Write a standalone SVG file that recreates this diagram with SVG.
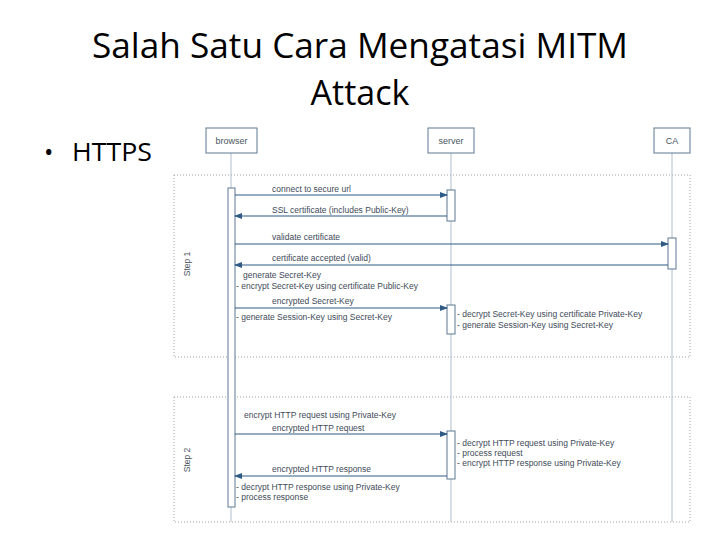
<svg xmlns="http://www.w3.org/2000/svg" width="720" height="540" viewBox="0 0 720 540">
<style>
.title{font-family:"Open Sans","Liberation Sans",sans-serif;font-size:34px;fill:#000}
.bul{font-family:"Open Sans","Liberation Sans",sans-serif;font-size:25px;fill:#000}
.hd rect{fill:#fff;stroke:#5d7892;stroke-width:1}
.hd text{font-family:"Liberation Sans",Arial,sans-serif;font-size:9px;fill:#4a5560;text-anchor:middle}
.life{stroke:#b0bfcc;stroke-width:1}
.act{fill:#fff;stroke:#5d7892;stroke-width:1}
.frame{fill:none;stroke:#a0a0a0;stroke-width:1;stroke-dasharray:1 2}
.lbl{font-family:"Liberation Sans",Arial,sans-serif;font-size:8.5px;fill:#3e4a58}
.msg{stroke:#2f5b85;stroke-width:1.2;fill:none}
.step{font-family:"Liberation Sans",Arial,sans-serif;font-size:8.5px;fill:#4a5560;text-anchor:middle}
</style>
<defs>
<marker id="ah" markerWidth="8" markerHeight="6" refX="7" refY="3" orient="auto" markerUnits="userSpaceOnUse">
<path d="M0,0 L8,3 L0,6 Z" fill="#2f5b85"/>
</marker>
</defs>
<rect width="720" height="540" fill="#fff"/>
<text class="title" x="360" y="58" text-anchor="middle" textLength="536" lengthAdjust="spacingAndGlyphs">Salah Satu Cara Mengatasi MITM</text>
<text class="title" x="360" y="105" text-anchor="middle">Attack</text>
<text class="bul" x="44" y="161">•</text>
<text class="bul" x="72" y="161" textLength="80" lengthAdjust="spacingAndGlyphs">HTTPS</text>

<g id="frames">
<rect class="frame" x="174" y="175" width="516" height="182"/>
<text class="step" transform="translate(190,264) rotate(-90)">Step 1</text>
<rect class="frame" x="174" y="397" width="516" height="125"/>
<text class="step" transform="translate(190,460) rotate(-90)">Step 2</text>
</g>

<g id="lifelines">
<line class="life" x1="231" y1="153" x2="231" y2="522"/>
<line class="life" x1="451" y1="153" x2="451" y2="522"/>
<line class="life" x1="672" y1="153" x2="672" y2="522"/>
</g>

<g id="browser" class="hd">
<rect x="206" y="128" width="51" height="25"/>
<text x="231.5" y="144">browser</text>
<rect class="act" x="228" y="188" width="7" height="319"/>
</g>
<g id="server" class="hd">
<rect x="428" y="128" width="46" height="25"/>
<text x="451" y="144">server</text>
<rect class="act" x="447" y="190" width="8" height="31"/>
<rect class="act" x="447" y="305" width="8" height="29"/>
<rect class="act" x="447" y="431" width="8" height="48"/>
</g>
<g id="ca" class="hd">
<rect x="654" y="128" width="36" height="25"/>
<text x="672" y="144">CA</text>
<rect class="act" x="668" y="238" width="8" height="31"/>
</g>

<g id="connectors">
<line class="msg" x1="235" y1="195" x2="447" y2="195" marker-end="url(#ah)"/>
<line class="msg" x1="447" y1="216" x2="235" y2="216" marker-end="url(#ah)"/>
<line class="msg" x1="235" y1="244" x2="668" y2="244" marker-end="url(#ah)"/>
<line class="msg" x1="668" y1="265" x2="235" y2="265" marker-end="url(#ah)"/>
<line class="msg" x1="235" y1="308" x2="447" y2="308" marker-end="url(#ah)"/>
<line class="msg" x1="235" y1="434" x2="447" y2="434" marker-end="url(#ah)"/>
<line class="msg" x1="447" y1="476" x2="235" y2="476" marker-end="url(#ah)"/>
</g>

<g id="labels">
<text class="lbl" x="272" y="192">connect to secure url</text>
<text class="lbl" x="272" y="213">SSL certificate (includes Public-Key)</text>
<text class="lbl" x="272" y="240">validate certificate</text>
<text class="lbl" x="272" y="261">certificate accepted (valid)</text>
<text class="lbl" x="243" y="278">generate Secret-Key</text>
<text class="lbl" x="236" y="289">- encrypt Secret-Key using certificate Public-Key</text>
<text class="lbl" x="272" y="304">encrypted Secret-Key</text>
<text class="lbl" x="236" y="320">- generate Session-Key using Secret-Key</text>
<text class="lbl" x="457" y="317">- decrypt Secret-Key using certificate Private-Key</text>
<text class="lbl" x="457" y="328">- generate Session-Key using Secret-Key</text>
<text class="lbl" x="244" y="418">encrypt HTTP request using Private-Key</text>
<text class="lbl" x="272" y="431">encrypted HTTP request</text>
<text class="lbl" x="457" y="446">- decrypt HTTP request using Private-Key</text>
<text class="lbl" x="457" y="456">- process request</text>
<text class="lbl" x="457" y="466">- encrypt HTTP response using Private-Key</text>
<text class="lbl" x="272" y="472">encrypted HTTP response</text>
<text class="lbl" x="236" y="490">- decrypt HTTP response using Private-Key</text>
<text class="lbl" x="236" y="500">- process response</text>
</g>
</svg>
